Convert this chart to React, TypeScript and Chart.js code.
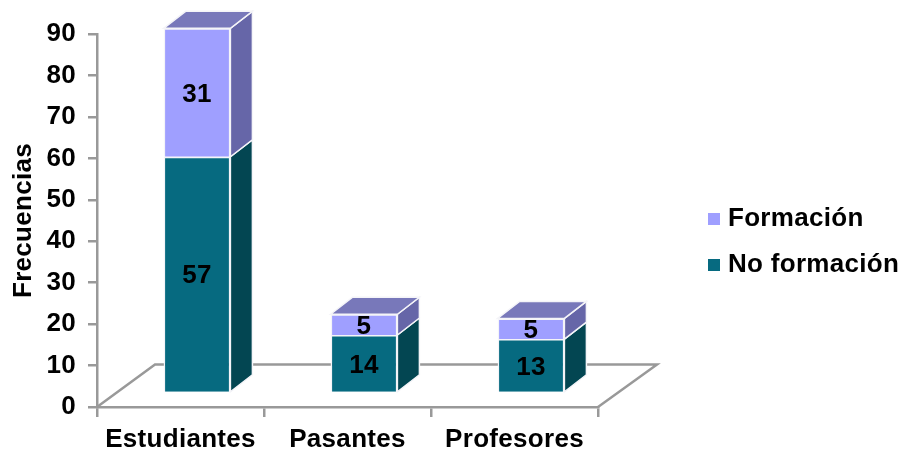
import React, { useEffect, useRef } from "react";
import { Chart, registerables } from "chart.js";

Chart.register(...registerables);

const categories = ["Estudiantes", "Pasantes", "Profesores"];
const noFormacion = [57, 14, 13];
const formacion = [31, 5, 5];
const yTicks = [0, 10, 20, 30, 40, 50, 60, 70, 80, 90];

const FONT_FAMILY = "'Liberation Sans', Arial, sans-serif";
const FONT_SIZE = 26;
const AXIS_GRAY = "#999999";
// Offset of the front face from the axis plane, and depth of each box.
const SHIFT_X = 16.5;
const SHIFT_Y = -14;
const DEPTH_X = 22;
const DEPTH_Y = 17;

const faces = [
  { front: "#066a80", side: "#034652", top: "#045060" },
  { front: "#9f9fff", side: "#6666a8", top: "#7878ba" },
];

function quad(ctx: CanvasRenderingContext2D, pts: number[][], fill: string) {
  ctx.beginPath();
  pts.forEach(([x, y], i) => (i ? ctx.lineTo(x, y) : ctx.moveTo(x, y)));
  ctx.closePath();
  ctx.fillStyle = fill;
  ctx.fill();
  ctx.strokeStyle = "#f4f4f8";
  ctx.lineWidth = 1.5;
  ctx.stroke();
}

const spacedText = {
  id: "spacedText",
  beforeLayout(chart: any) {
    chart.ctx.letterSpacing = "0.3px";
  },
  beforeDraw(chart: any) {
    chart.ctx.letterSpacing = "0.3px";
  },
};

const boxes3d = {
  id: "boxes3d",
  afterLayout(chart: any) {
    // The legend sits in the free space to the right of the plot.
    const lg = chart.legend;
    const w = lg.width;
    const h = lg.height;
    lg.left = 693;
    lg.right = 693 + w;
    lg.top = 242 - h / 2;
    lg.bottom = 242 + h / 2;
  },
  beforeDatasetsDraw(chart: any) {
    const { ctx, chartArea, scales } = chart;
    const back = scales.y.getPixelForValue(10) - 1;

    // Floor of the plot
    ctx.save();
    ctx.beginPath();
    ctx.moveTo(chartArea.left, chartArea.bottom);
    ctx.lineTo(chartArea.left + 58, back);
    ctx.lineTo(chartArea.right + 59, back);
    ctx.lineTo(chartArea.right, chartArea.bottom);
    ctx.strokeStyle = AXIS_GRAY;
    ctx.lineWidth = 2.5;
    ctx.stroke();
    ctx.restore();

    ctx.save();
    ctx.translate(SHIFT_X, SHIFT_Y);
    chart.data.datasets.forEach((_: any, d: number) => {
      const isTop = d === chart.data.datasets.length - 1;
      chart.getDatasetMeta(d).data.forEach((bar: any) => {
        const l = bar.x - bar.width / 2;
        const r = bar.x + bar.width / 2;
        quad(
          ctx,
          [
            [r, bar.y],
            [r + DEPTH_X, bar.y - DEPTH_Y],
            [r + DEPTH_X, bar.base - DEPTH_Y],
            [r, bar.base],
          ],
          faces[d].side
        );
        if (isTop) {
          quad(
            ctx,
            [
              [l, bar.y],
              [l + DEPTH_X, bar.y - DEPTH_Y],
              [r + DEPTH_X, bar.y - DEPTH_Y],
              [r, bar.y],
            ],
            faces[d].top
          );
        }
      });
    });
  },
  afterDatasetsDraw(chart: any) {
    const { ctx } = chart;
    // Value labels centred on each front face
    ctx.font = `bold ${FONT_SIZE}px ${FONT_FAMILY}`;
    ctx.fillStyle = "#000";
    ctx.textAlign = "center";
    ctx.textBaseline = "middle";
    chart.data.datasets.forEach((ds: any, d: number) => {
      chart.getDatasetMeta(d).data.forEach((bar: any, i: number) => {
        ctx.fillText(String(ds.data[i]), bar.x, (bar.y + bar.base) / 2 + 2);
      });
    });
    ctx.restore();
  },
};

export default function App() {
  const ref = useRef<HTMLCanvasElement>(null);

  useEffect(() => {
    const chart = new Chart(ref.current as HTMLCanvasElement, {
      type: "bar",
      data: {
        labels: categories,
        datasets: [
          {
            label: "No formación",
            data: noFormacion,
            backgroundColor: faces[0].front,
            borderColor: "#f4f4f8",
            borderWidth: 1.5,
            barPercentage: 0.8,
            categoryPercentage: 0.5,
          },
          {
            label: "Formación",
            data: formacion,
            backgroundColor: faces[1].front,
            borderColor: "#f4f4f8",
            borderWidth: 1.5,
            barPercentage: 0.8,
            categoryPercentage: 0.5,
          },
        ],
      },
      options: {
        responsive: false,
        animation: false,
        layout: { padding: { left: 0, right: 305, top: 34, bottom: 0 } },
        plugins: {
          tooltip: { enabled: false },
          legend: {
            position: "chartArea" as any,
            reverse: true,
            labels: {
              boxWidth: 2,
              boxHeight: 2,
              padding: 20,
              color: "#000",
              font: { family: FONT_FAMILY, size: FONT_SIZE, weight: "bold" },
              // Thin box with a heavy outline keeps the text close to the swatch.
              generateLabels: (chart: any) =>
                chart.data.datasets.map((ds: any, i: number) => ({
                  text: ds.label,
                  fillStyle: ds.backgroundColor,
                  strokeStyle: ds.backgroundColor,
                  lineWidth: 10,
                  datasetIndex: i,
                  fontColor: "#000",
                })),
            },
          },
        },
        scales: {
          x: {
            stacked: true,
            afterFit: (s: any) => {
              s.height = 43;
            },
            border: { color: AXIS_GRAY, width: 2.5 },
            grid: {
              drawOnChartArea: false,
              drawTicks: true,
              tickLength: 10,
              color: AXIS_GRAY,
              lineWidth: 2.5,
            },
            ticks: {
              color: "#000",
              padding: 7,
              maxRotation: 0,
              font: { family: FONT_FAMILY, size: FONT_SIZE, weight: "bold" },
            },
          },
          y: {
            stacked: true,
            min: 0,
            max: 90,
            afterFit: (s: any) => {
              s.width = 97;
            },
            afterBuildTicks: (s: any) => {
              s.ticks = yTicks.map((value) => ({ value }));
            },
            border: { color: AXIS_GRAY, width: 2.5 },
            grid: {
              drawOnChartArea: false,
              drawTicks: true,
              tickLength: 9,
              color: AXIS_GRAY,
              lineWidth: 2.5,
            },
            title: {
              display: true,
              text: "Frecuencias",
              color: "#000",
              padding: { top: 8, bottom: 0 },
              font: { family: FONT_FAMILY, size: FONT_SIZE, weight: "bold" },
            },
            ticks: {
              color: "#000",
              padding: 12,
              font: { family: FONT_FAMILY, size: FONT_SIZE, weight: "bold" },
            },
          },
        },
      },
      plugins: [spacedText, boxes3d],
    } as any);
    return () => chart.destroy();
  }, []);

  return (
    <div style={{ position: "absolute", left: 0, top: 0, width: 903, height: 450, background: "#fff" }}>
      <canvas ref={ref} width={903} height={450} style={{ display: "block" }} />
    </div>
  );
}
